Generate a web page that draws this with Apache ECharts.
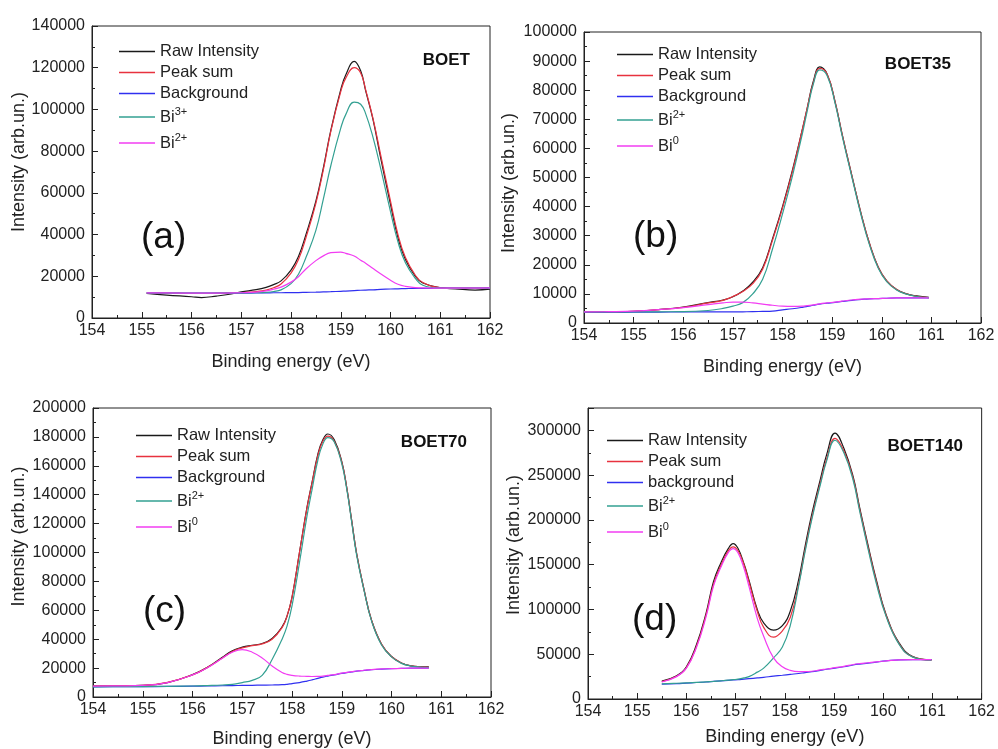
<!DOCTYPE html>
<html>
<head>
<meta charset="utf-8">
<script src="https://cdn.jsdelivr.net/npm/echarts@6/dist/echarts.min.js"></script>
<style>html,body{margin:0;padding:0;background:#fff}#c{width:998px;height:749px}</style>
</head>
<body>
<div id="c"></div>
<script>
// ---------- Panel (a) BOET ----------
const energyA = [155.1,155.5,156.0,156.2,156.5,156.8,157.0,157.3,157.5,157.65,157.8,158.0,158.15,158.3,158.5,158.65,158.8,159.0,159.1,159.27,159.4,159.5,159.65,159.8,160.0,160.15,160.3,160.5,160.65,161.0,161.3,161.7,162.0];
const rawA  = [11800,11000,10200,9800,10500,11500,12500,13600,14700,16000,17800,23000,29500,40000,56000,72000,90000,109500,116500,123000,118500,109000,95000,77000,54500,38500,28000,19900,16800,14500,14000,13400,13800];
const sumA  = [12000,12000,11800,11800,11900,12000,12200,12700,13400,14500,16300,21500,28000,38500,55000,71000,89500,108500,115000,120000,117500,109500,95500,78500,56000,40000,29000,20500,17000,14600,14300,14300,14400];
const bgA   = [12000,12000,11900,11900,11900,11900,11900,12000,12000,12100,12100,12200,12200,12300,12400,12500,12600,12800,12900,13100,13300,13400,13500,13700,13900,14000,14100,14200,14200,14300,14300,14300,14400];
const bi3A  = [12000,12000,11900,11900,11900,12000,12000,12100,12300,12700,13500,16500,21000,29000,42000,57000,73000,91000,97500,103500,102500,98000,86500,72000,51000,36500,26500,19000,15700,14300,14200,14200,14300];
const bi2A  = [12000,12000,11900,11900,11900,12000,12100,12400,13000,13800,14800,17200,19800,23500,27500,29800,31300,31600,31000,29700,27700,26300,23700,21200,18100,16200,15200,14600,14400,14300,14300,14300,14400];

// ---------- Panel (b) BOET35 ----------
const energyB = [154.0,154.5,155.0,155.5,156.0,156.5,156.8,157.0,157.2,157.4,157.6,157.8,158.0,158.2,158.4,158.5,158.62,158.75,158.9,159.06,159.2,159.4,159.6,159.75,159.93,160.1,160.3,160.5,160.7,160.95];
const rawB  = [3800,3800,4000,4600,5500,7000,7900,9000,11000,14000,19000,29000,40000,52500,66500,74000,83000,88000,85500,76000,65000,50500,36500,27500,19200,14500,11500,10000,9300,8800];
const sumB  = [3800,3800,4000,4600,5400,6900,7800,9100,10800,13500,18500,28500,39500,52000,66500,74000,82500,87500,85500,76000,65000,50500,36500,27500,19200,14500,11500,10000,9200,8700];
const bgB   = [3700,3700,3700,3750,3800,3800,3800,3800,3850,3900,4000,4100,4500,4900,5400,5700,6100,6500,6800,7100,7400,7800,8100,8300,8400,8500,8600,8600,8600,8600];
const bi2B  = [3800,3800,3800,3850,3900,4300,5000,5800,7000,10000,15000,25500,37500,50500,65000,73000,82000,87000,85000,75500,64500,50000,36000,27000,18800,14200,11300,9900,9100,8700];
const bi0B  = [3800,3900,4100,4600,5300,6300,6900,7200,7200,6900,6500,6100,5800,5700,5800,6000,6200,6600,6900,7200,7500,7900,8200,8300,8400,8500,8600,8600,8600,8600];

// ---------- Panel (c) BOET70 ----------
const energyC = [154.0,154.5,155.0,155.5,156.0,156.3,156.6,156.8,157.0,157.2,157.4,157.6,157.8,157.9,158.0,158.15,158.3,158.4,158.52,158.62,158.72,158.85,159.0,159.1,159.2,159.3,159.45,159.6,159.8,160.0,160.2,160.4,160.6,160.75];
const rawC  = [7500,7700,8000,10000,15500,20500,27500,32000,34500,35800,37000,40500,48500,56000,69000,100000,131000,148000,168000,178000,182000,178000,163000,145000,122000,99000,74000,53000,36500,28000,23500,21500,21000,20800];
const sumC  = [7600,7800,8100,10100,15300,20500,27000,31500,34000,35500,36800,40000,48000,56000,69000,100000,130500,147500,167000,177000,180500,177000,162500,145000,122000,99000,74000,53000,36500,28000,23500,21500,20800,20500];
const bgC   = [7000,7100,7200,7300,7500,7600,7800,7900,8000,8100,8200,8300,8500,8800,9300,10000,11000,11800,12900,13800,14500,15300,16300,16900,17400,17900,18400,18900,19300,19600,19800,20000,20000,20000];
const bi2C  = [7000,7100,7200,7400,7600,7900,8300,8800,10000,11500,15000,26000,40000,49000,63000,93000,125000,143000,164000,175000,179500,176500,161500,144000,121000,98000,73500,52500,36000,27800,23300,21400,20700,20400];
const bi0C  = [7500,7700,8000,10000,15300,20300,26800,31000,32800,31000,27000,21500,17000,15700,15000,14500,14300,14200,14300,14500,14900,15500,16500,17000,17500,18000,18500,19000,19400,19600,19800,20000,20000,20000];

// ---------- Panel (d) BOET140 ----------
const energyD = [155.5,155.8,156.0,156.2,156.4,156.55,156.7,156.85,156.95,157.05,157.17,157.27,157.44,157.57,157.77,157.95,158.11,158.28,158.41,158.55,158.72,158.85,159.02,159.2,159.39,159.52,159.69,159.86,160.06,160.33,160.6,160.98];
const rawD  = [20000,26000,36000,60000,96000,131000,152000,168000,173500,168000,151000,133000,100000,85000,77000,82000,98000,133000,170000,207000,245000,273000,297000,280000,248000,214000,172000,133000,94000,62000,47500,43800];
const sumD  = [19500,25500,35000,58000,94000,128000,149000,165500,170000,165500,150000,131000,98000,80000,69000,76000,91000,128000,166000,203000,241000,268000,291000,277000,246000,212000,170000,131000,93000,61000,47000,43500];
const bgD   = [16700,17200,17800,18400,19000,19600,20200,20800,21200,21600,22200,22700,23500,24200,25500,26500,27500,28500,29500,30500,32000,33200,34500,36000,38000,39000,40000,41200,42500,43800,44000,44000];
const bi2D  = [17000,17600,18000,18500,19200,19700,20300,21000,21600,22200,23500,25000,30000,34500,46000,58000,82000,126000,164000,201000,239000,266000,289000,275000,244000,210000,168000,129000,92000,60500,46800,43500];
const bi0D  = [19000,25000,34500,57000,92000,126000,147000,163500,168000,163000,146000,126000,90000,70000,46000,36000,32000,30500,30500,31000,32500,33500,35000,36500,38500,39500,40500,41500,42500,43800,44000,44000];

// ---------- labels ----------
const panelLetters = ['(a)','(b)','(c)','(d)'];
const sampleNames = ['BOET','BOET35','BOET70','BOET140'];
const yMax = [140000,100000,200000,325000];
const yInterval = [20000,10000,20000,50000];
const xTitle = 'Binding energy (eV)';
const yTitle = 'Intensity (arb.un.)';

const COL = {raw:'#1a1a1a', sum:'#e8323f', bg:'#3030f0', teal:'#33a092', mag:'#f23cf2'};
const FONT = 'Liberation Sans, Arial, sans-serif';

const panels = [
  {x:energyA, s:[['Raw Intensity',rawA,COL.raw],['Peak sum',sumA,COL.sum],['Background',bgA,COL.bg],['Bi^3+',bi3A,COL.teal],['Bi^2+',bi2A,COL.mag]]},
  {x:energyB, s:[['Raw Intensity',rawB,COL.raw],['Peak sum',sumB,COL.sum],['Background',bgB,COL.bg],['Bi^2+',bi2B,COL.teal],['Bi^0',bi0B,COL.mag]]},
  {x:energyC, s:[['Raw Intensity',rawC,COL.raw],['Peak sum',sumC,COL.sum],['Background',bgC,COL.bg],['Bi^2+',bi2C,COL.teal],['Bi^0',bi0C,COL.mag]]},
  {x:energyD, s:[['Raw Intensity',rawD,COL.raw],['Peak sum',sumD,COL.sum],['background',bgD,COL.bg],['Bi^2+',bi2D,COL.teal],['Bi^0',bi0D,COL.mag]]}
];

// layout (pixels)
const grids = [
  {left:92, top:26, width:398, height:292},
  {left:584, top:32, width:397, height:291},
  {left:93, top:408, width:398, height:290},
  {left:588, top:408, width:397, height:291}
];
const legendPos = [{left:114, top:38},{left:612, top:41},{left:131, top:422},{left:602, top:427}];
const yNameGap = [61, 66, 65, 65];
const yNamePad = [[0,0,0,20],[0,11,0,0],[0,0,0,32],[0,0,0,17]];
const xNameGap = [35, 35, 33, 29];
const letterPos = [[141,238],[633,237],[143,612],[632,620]];
const samplePos = [[470,60],[951,64],[467,442],[963,446]];

const tags = ['a','b','c','d'];
const option = {animation:false, backgroundColor:'#fff', grid:[], xAxis:[], yAxis:[], series:[], legend:[], graphic:[]};

panels.forEach((p, k) => {
  const g = grids[k];
  option.grid.push({left:g.left, top:g.top, width:g.width, height:g.height, show:true, borderColor:'#222', borderWidth:1, backgroundColor:'transparent'});
  option.xAxis.push({
    type:'value', gridIndex:k, min:154, max:162, interval:1,
    name:xTitle, nameLocation:'middle', nameGap:xNameGap[k],
    nameTextStyle:{fontFamily:FONT, fontSize:18, color:'#222'},
    axisLine:{show:true, lineStyle:{color:'#222', width:1}},
    axisTick:{show:true, inside:true, length:6, lineStyle:{color:'#222'}},
    minorTick:{show:true, splitNumber:2, length:3, lineStyle:{color:'#222'}},
    axisLabel:{fontFamily:FONT, fontSize:16, color:'#222', margin:5},
    splitLine:{show:false}
  });
  option.yAxis.push({
    type:'value', gridIndex:k, min:0, max:yMax[k], interval:yInterval[k],
    name:yTitle, nameLocation:'middle', nameGap:yNameGap[k],
    nameTextStyle:{fontFamily:FONT, fontSize:18, color:'#222', padding:yNamePad[k]},
    axisLine:{show:true, lineStyle:{color:'#222', width:1}},
    axisTick:{show:true, inside:true, length:6, lineStyle:{color:'#222'}},
    minorTick:{show:true, splitNumber:2, length:3, lineStyle:{color:'#222'}},
    axisLabel:{fontFamily:FONT, fontSize:16, color:'#222', margin:7,
      formatter: v => (v > 300000 ? '' : String(v))},
    splitLine:{show:false}
  });
  const names = [];
  p.s.forEach(([name, ys, color]) => {
    const id = name + '@' + tags[k];
    names.push(id);
    option.series.push({
      type:'line', name:id, xAxisIndex:k, yAxisIndex:k,
      data: p.x.map((x, i) => [x, ys[i]]),
      symbol:'none', smooth:0.45, color:color,
      itemStyle:{color:color},
      lineStyle:{width:1.2, color:color}, z:2
    });
  });
  option.legend.push({
    data:names.map((n, i) => ({name:n, itemStyle:{color:p.s[i][2]}})),
    orient:'vertical', left:legendPos[k].left, top:legendPos[k].top,
    icon:'rect', itemWidth:36, itemHeight:1.6, itemGap:4, selectedMode:false,
    textStyle:{fontFamily:FONT, fontSize:16.5, color:'#222', lineHeight:17,
      rich:{
        b:{fontFamily:FONT, fontSize:16.5, color:'#222', lineHeight:22},
        s:{fontFamily:FONT, fontSize:11, color:'#222', lineHeight:11, verticalAlign:'top'}
      }},
    formatter: id => {
      const n = id.split('@')[0];
      if (n.indexOf('^') >= 0) {
        const parts = n.split('^');
        return '{b|' + parts[0] + '}{s|' + parts[1] + '}';
      }
      return n;
    }
  });
  option.graphic.push({type:'text', x:letterPos[k][0], y:letterPos[k][1],
    style:{text:panelLetters[k], fontFamily:FONT, fontSize:37, fill:'#111', verticalAlign:'middle', align:'left'}});
  option.graphic.push({type:'text', x:samplePos[k][0], y:samplePos[k][1],
    style:{text:sampleNames[k], fontFamily:FONT, fontSize:17, fontWeight:'bold', fill:'#111', verticalAlign:'middle', align:'right'}});
});

const chart = echarts.init(document.getElementById('c'), null, {renderer:'canvas'});
chart.setOption(option);
</script>
</body>
</html>
